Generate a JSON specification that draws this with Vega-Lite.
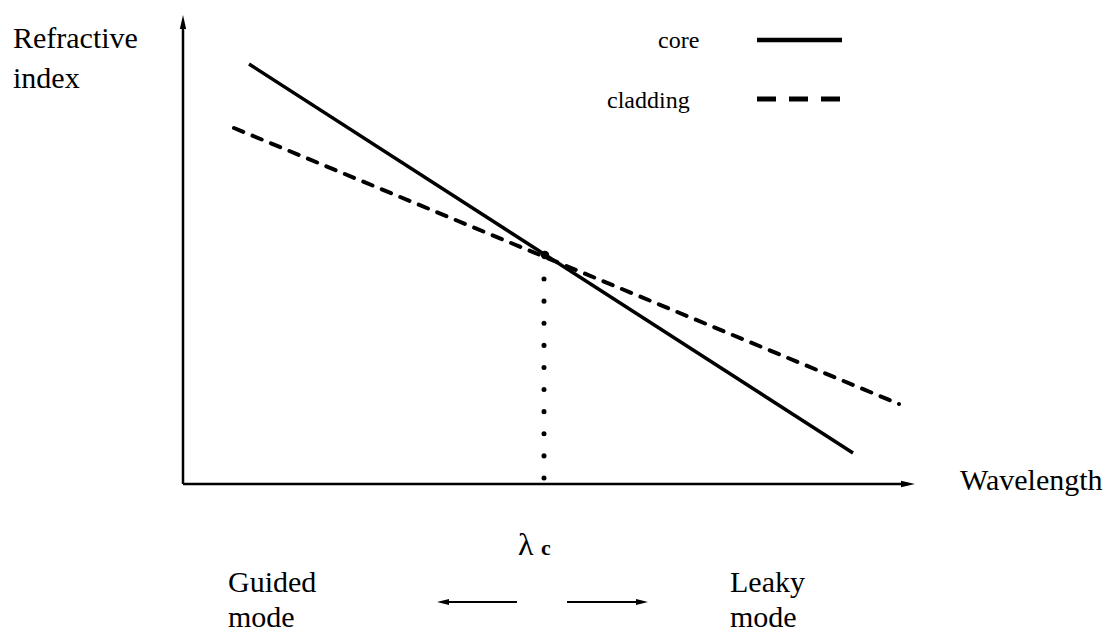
{
  "$schema": "https://vega.github.io/schema/vega-lite/v6.json",
  "width": 1118,
  "height": 635,
  "autosize": {"type": "fit", "contains": "padding"},
  "padding": 0,
  "background": "white",
  "config": {"view": {"stroke": null}},
  "datasets": {
    "core": [{"x": 6.6, "y": 42.0}, {"x": 67.0, "y": 3.1}],
    "cladding": [{"x": 5.1, "y": 35.6}, {"x": 71.6, "y": 8.0}],
    "axes": [
      {"name": "index axis", "x": 0, "y": 0, "x2": 0, "y2": 46.0},
      {"name": "wavelength axis", "x": 0, "y": 0, "x2": 72.5, "y2": 0}
    ],
    "cutoff": [{"x": 36.1, "y": 20.5, "x2": 36.1, "y2": 0}],
    "crossing": [{"x": 36.2, "y": 22.9}],
    "modeArrows": [
      {"name": "guided", "x": 26.0, "y": -11.8, "x2": 33.4, "y2": -11.8},
      {"name": "leaky", "x": 38.4, "y": -11.8, "x2": 45.9, "y2": -11.8}
    ],
    "headUp": [{"x": 0, "y": 46.2}],
    "headRight": [{"x": 72.5, "y": 0}],
    "headModeLeft": [{"x": 26.0, "y": -11.8}],
    "headModeRight": [{"x": 45.9, "y": -11.8}],
    "legendSolid": [{"x": 57.4, "y": 44.4}, {"x": 65.9, "y": 44.4}],
    "legendDashed": [{"x": 57.4, "y": 38.5}, {"x": 65.7, "y": 38.5}],
    "bigLabels": [
      {"x": -17.0, "y": 43.6, "text": "Refractive"},
      {"x": -17.0, "y": 39.6, "text": "index"},
      {"x": 77.7, "y": -0.6, "text": "Wavelength"},
      {"x": 4.5, "y": -10.8, "text": "Guided"},
      {"x": 4.5, "y": -14.3, "text": "mode"},
      {"x": 54.7, "y": -10.8, "text": "Leaky"},
      {"x": 54.7, "y": -14.3, "text": "mode"}
    ],
    "legendLabels": [
      {"x": 47.5, "y": 43.6, "text": "core"},
      {"x": 42.4, "y": 37.6, "text": "cladding"}
    ],
    "lambda": [{"x": 33.5, "y": -7.1, "text": "λ"}],
    "sub": [{"x": 35.8, "y": -7.1, "text": "c"}]
  },
  "encoding": {
    "x": {"field": "x", "type": "quantitative", "scale": {"domain": [-18.3, 93.5], "nice": false, "zero": false}, "axis": null},
    "y": {"field": "y", "type": "quantitative", "scale": {"domain": [-15.1, 48.4], "nice": false, "zero": false}, "axis": null}
  },
  "layer": [
    {"data": {"name": "axes"}, "mark": {"type": "rule", "color": "black", "strokeWidth": 2.5},
     "encoding": {"x2": {"field": "x2"}, "y2": {"field": "y2"}}},
    {"data": {"name": "headUp"}, "mark": {"type": "point", "shape": "M0,-1L0.45,1L-0.45,1Z", "size": 196, "filled": true, "color": "black", "opacity": 1}},
    {"data": {"name": "headRight"}, "mark": {"type": "point", "shape": "M1,0L-1,-0.45L-1,0.45Z", "size": 196, "filled": true, "color": "black", "opacity": 1}},
    {"data": {"name": "core"}, "mark": {"type": "line", "color": "black", "strokeWidth": 3.5}},
    {"data": {"name": "cladding"}, "mark": {"type": "line", "color": "black", "strokeWidth": 4, "strokeDash": [10, 10], "strokeCap": "round"}},
    {"data": {"name": "cutoff"}, "mark": {"type": "rule", "color": "black", "strokeWidth": 5, "strokeDash": [0.1, 22], "strokeCap": "round"},
     "encoding": {"x2": {"field": "x2"}, "y2": {"field": "y2"}}},
    {"data": {"name": "crossing"}, "mark": {"type": "point", "shape": "circle", "size": 70, "filled": true, "color": "black", "opacity": 1}},
    {"data": {"name": "modeArrows"}, "mark": {"type": "rule", "color": "black", "strokeWidth": 2},
     "encoding": {"x2": {"field": "x2"}, "y2": {"field": "y2"}}},
    {"data": {"name": "headModeLeft"}, "mark": {"type": "point", "shape": "M-1,0L1,-0.5L1,0.5Z", "size": 144, "filled": true, "color": "black", "opacity": 1}},
    {"data": {"name": "headModeRight"}, "mark": {"type": "point", "shape": "M1,0L-1,-0.5L-1,0.5Z", "size": 144, "filled": true, "color": "black", "opacity": 1}},
    {"data": {"name": "legendSolid"}, "mark": {"type": "line", "color": "black", "strokeWidth": 4.5}},
    {"data": {"name": "legendDashed"}, "mark": {"type": "line", "color": "black", "strokeWidth": 5, "strokeDash": [19, 13]}},
    {"data": {"name": "bigLabels"}, "mark": {"type": "text", "font": "serif", "fontSize": 30, "align": "left", "baseline": "alphabetic", "color": "black"},
     "encoding": {"text": {"field": "text"}}},
    {"data": {"name": "legendLabels"}, "mark": {"type": "text", "font": "serif", "fontSize": 24, "align": "left", "baseline": "alphabetic", "color": "black"},
     "encoding": {"text": {"field": "text"}}},
    {"data": {"name": "lambda"}, "mark": {"type": "text", "font": "serif", "fontSize": 32, "align": "left", "baseline": "alphabetic", "color": "black"},
     "encoding": {"text": {"field": "text"}}},
    {"data": {"name": "sub"}, "mark": {"type": "text", "font": "serif", "fontSize": 22, "fontWeight": "bold", "align": "left", "baseline": "alphabetic", "color": "black"},
     "encoding": {"text": {"field": "text"}}}
  ]
}
